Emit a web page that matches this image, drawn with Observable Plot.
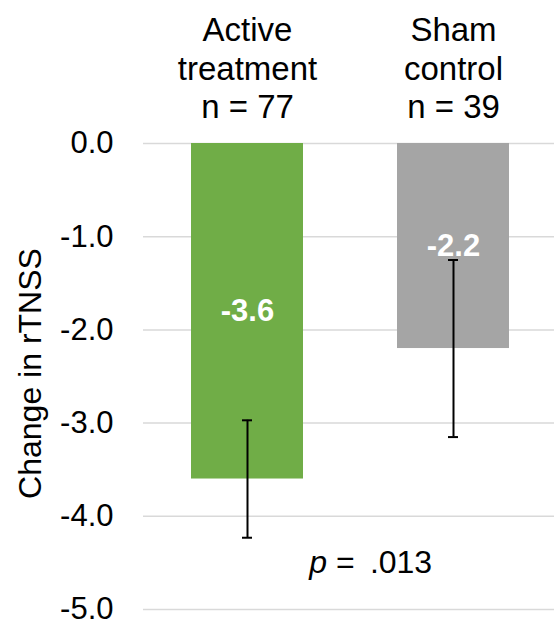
<!DOCTYPE html>
<html>
<head>
<meta charset="utf-8">
<script src="https://cdn.jsdelivr.net/npm/d3@7"></script>
<script src="https://cdn.jsdelivr.net/npm/@observablehq/plot@0.6"></script>
<style>
  html, body { margin: 0; padding: 0; background: #fff; }
</style>
</head>
<body>
<div id="chart"></div>
<script>
const categories = ["Active", "Sham"];
const headers = ["Active\ntreatment\nn = 77", "Sham\ncontrol\nn = 39"];
const means = [-3.6, -2.2];
const errors = [0.63, 0.95];
const colors = ["#70AD47", "#A5A5A5"];
const yTicks = [0, -1, -2, -3, -4, -5];
const pLabel = "p";
const pValue = "\u00a0=\u00a0\u2009.013";
const pY = -4.5;
const yTitle = "Change in rTNSS";

const data = categories.map((c, i) => ({
  cat: c, header: headers[i], mean: means[i],
  lo: means[i] - errors[i], hi: means[i] + errors[i], color: colors[i]
}));

const chart = Plot.plot({
  width: 554,
  height: 625,
  marginTop: 143,
  marginBottom: 16,
  marginLeft: 143,
  marginRight: 0,
  style: {fontFamily: "'Liberation Sans', Arial, sans-serif", color: "#000", background: "#fff"},
  x: {domain: categories, range: [146, 554], paddingInner: 0.454, paddingOuter: 0.2126, axis: null},
  y: {domain: [-5, 0], axis: null},
  marks: [
    Plot.gridY(yTicks, {stroke: "#D9D9D9", strokeOpacity: 1, strokeWidth: 1.5}),
    Plot.axisY(yTicks, {tickSize: 0, tickPadding: 30, fontSize: 31, tickFormat: d => d.toFixed(1), fill: "#000"}),
    Plot.barY(data, {x: "cat", y1: 0, y2: "mean", fill: "color"}),
    Plot.ruleX(data, {x: "cat", y1: "lo", y2: "hi", stroke: "#000", strokeWidth: 2}),
    Plot.tickY(data, {x: "cat", y: "lo", stroke: "#000", strokeWidth: 2, insetLeft: 51, insetRight: 51}),
    Plot.tickY(data, {x: "cat", y: "hi", stroke: "#000", strokeWidth: 2, insetLeft: 51, insetRight: 51}),
    Plot.text(data, {x: "cat", y: d => d.mean / 2, text: d => d.mean.toFixed(1), fill: "#fff", fontWeight: "bold", fontSize: 31}),
    Plot.text(data, {x: "cat", text: "header", frameAnchor: "top", lineAnchor: "top", dy: -130, fontSize: 33, lineHeight: 1.17, fill: "#000"}),
    Plot.text([pLabel], {y: pY, frameAnchor: "middle", textAnchor: "end", dx: -22, fontSize: 32, fontStyle: "italic", fill: "#000"}),
    Plot.text([pValue], {y: pY, frameAnchor: "middle", textAnchor: "start", dx: -22, fontSize: 32, fill: "#000"}),
    Plot.text([yTitle], {frameAnchor: "left", textAnchor: "middle", lineAnchor: "middle", rotate: -90, dx: -113, dy: -3, fontSize: 32, fill: "#000"})
  ]
});
document.getElementById("chart").appendChild(chart);
</script>
</body>
</html>
